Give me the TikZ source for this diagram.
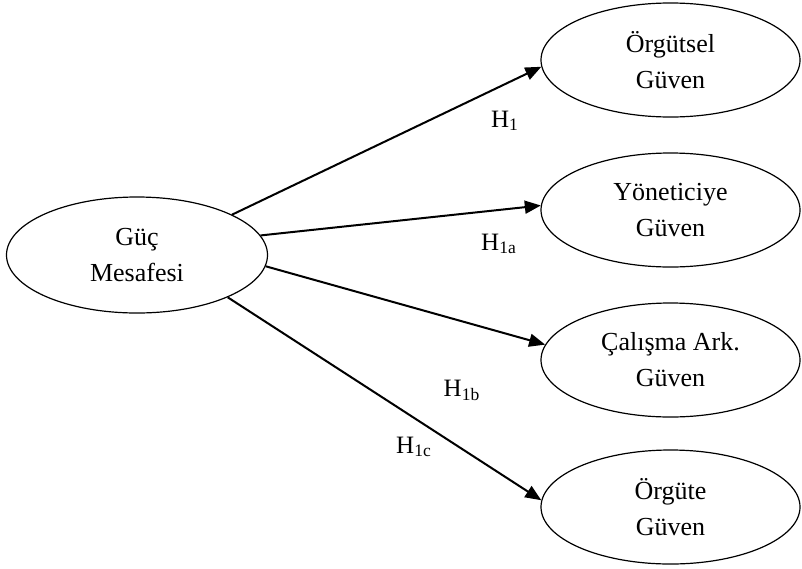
\documentclass[tikz,border=0pt]{standalone}
\usepackage{fontspec}
\setmainfont{Liberation Serif}
\usetikzlibrary{shapes.geometric, arrows.meta}
\tikzstyle{factor} = [ellipse, 
minimum width=129.5pt, 
minimum height=57pt,
inner sep=0pt,
align=center, 
draw=black, 
line width=0.6pt,
font=\fontsize{13}{18}\selectfont]
\tikzstyle{hyp} = [inner sep=0pt,
font=\fontsize{12.5}{15}\selectfont]
\tikzstyle{arrow} = [line width=1pt,-{Triangle[length=8pt,width=6.5pt]}]

\begin{document}
\begin{tikzpicture}[x=0.5pt, y=-0.5pt]
\useasboundingbox (0,0) rectangle (802,568);
\node (guc) [factor, minimum width=130.5pt, minimum height=58pt] at (137,255) {Güç\\Mesafesi};
\node (orgutsel) [factor] at (670.5,60) {Örgütsel\\Güven};
\node (yonetici) [factor] at (670.5,210) {Yöneticiye\\Güven};
\node (calisma) [factor] at (670.5,360) {Çalışma Ark.\\Güven};
\node (orgute) [factor] at (670.5,507) {Örgüte\\Güven};
\node (h1) [hyp] at (505,121) {H\textsubscript{1}};
\node (h1a) [hyp] at (499,244) {H\textsubscript{1a}};
\node (h1b) [hyp] at (462,390) {H\textsubscript{1b}};
\node (h1c) [hyp] at (414,447) {H\textsubscript{1c}};

\draw [arrow] (guc.23) -- (orgutsel.183.5);
\draw [arrow] (guc.9) -- (yonetici.178.7);
\draw [arrow] (guc.-5.8) -- (calisma.173.5);
\draw [arrow] (guc.-25.3) -- (orgute.177);
\end{tikzpicture}
\end{document}
